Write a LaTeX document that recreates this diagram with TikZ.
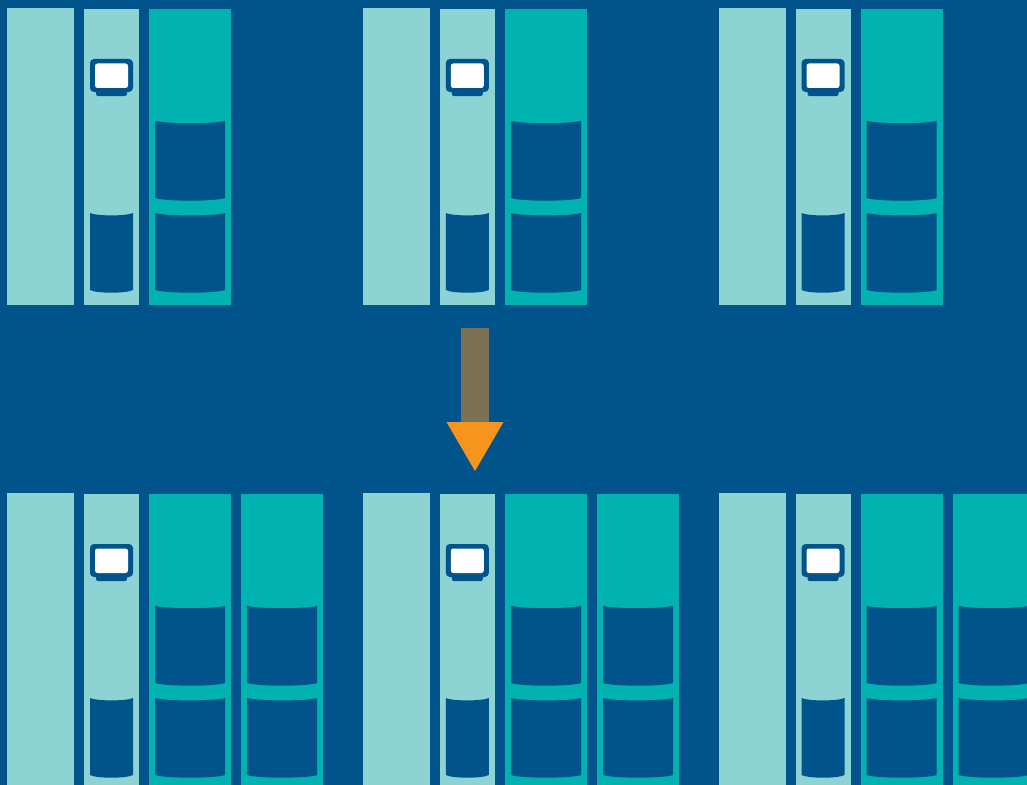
\documentclass[tikz,border=0pt]{standalone}
\definecolor{racknavy}{RGB}{0,84,139}
\definecolor{racklight}{RGB}{141,211,211}
\definecolor{rackteal}{RGB}{0,178,176}
\definecolor{arrowolive}{RGB}{123,113,85}
\definecolor{arroworange}{RGB}{247,148,29}
\usetikzlibrary{calc}
\tikzset{
  lightpanel/.style={fill=racklight},
  tealpanel/.style={fill=rackteal},
  slotfill/.style={fill=racknavy},
}
% x, top, bottom, width of a slot with sagging edges
\newcommand{\drawslot}[4]{
\fill[slotfill] (#1,#2) .. controls ($(#1,#2)+(#4*0.15,3.2)$) and ($(#1,#2)+(#4*0.85,3.2)$) .. ($(#1,#2)+(#4,0)$)
  -- ($(#1,#3)+(#4,0)$) .. controls ($(#1,#3)+(#4*0.85,3.6)$) and ($(#1,#3)+(#4*0.15,3.6)$) .. (#1,#3) -- cycle;
}
% x offset, y offset of a tall panel
\newcommand{\drawtealpanel}[2]{
\fill[tealpanel] (#1,#2+8.9) rectangle (#1+82,#2+305);
\drawslot{#1+6}{#2+120.8}{#2+198}{70}
\drawslot{#1+6}{#2+213}{#2+290}{70}
}
\newcommand{\drawbase}[2]{
\fill[lightpanel] (#1+7,#2+8.4) rectangle (#1+74,#2+305);
\fill[lightpanel] (#1+84,#2+8.8) rectangle (#1+139,#2+305);
\drawslot{#1+90}{#2+213}{#2+290}{43}
\fill[racknavy,rounded corners=2pt] (#1+96,#2+85) rectangle (#1+127,#2+96);
\fill[racknavy,rounded corners=4pt] (#1+90,#2+59) rectangle (#1+133,#2+92);
\fill[white,rounded corners=2.5pt] (#1+95,#2+63.5) rectangle (#1+128,#2+88);
\drawtealpanel{#1+149.2}{#2}
}

\begin{document}
\begin{tikzpicture}[x=1bp,y=-1bp]
\useasboundingbox (0,0) rectangle (1027,785);
\clip (0,0) rectangle (1027,785);
\fill[racknavy] (0,0) rectangle (1027,785);
\foreach \dx in {0,355.8,711.5}{
  \drawbase{\dx}{0}
  \drawbase{\dx}{485}
  \drawtealpanel{\dx+241.2}{485}
}
\fill[arrowolive] (461,328) rectangle (489,422);
\fill[arroworange] (446.5,422) -- (503.5,422) -- (475,471) -- cycle;
\end{tikzpicture}
\end{document}
